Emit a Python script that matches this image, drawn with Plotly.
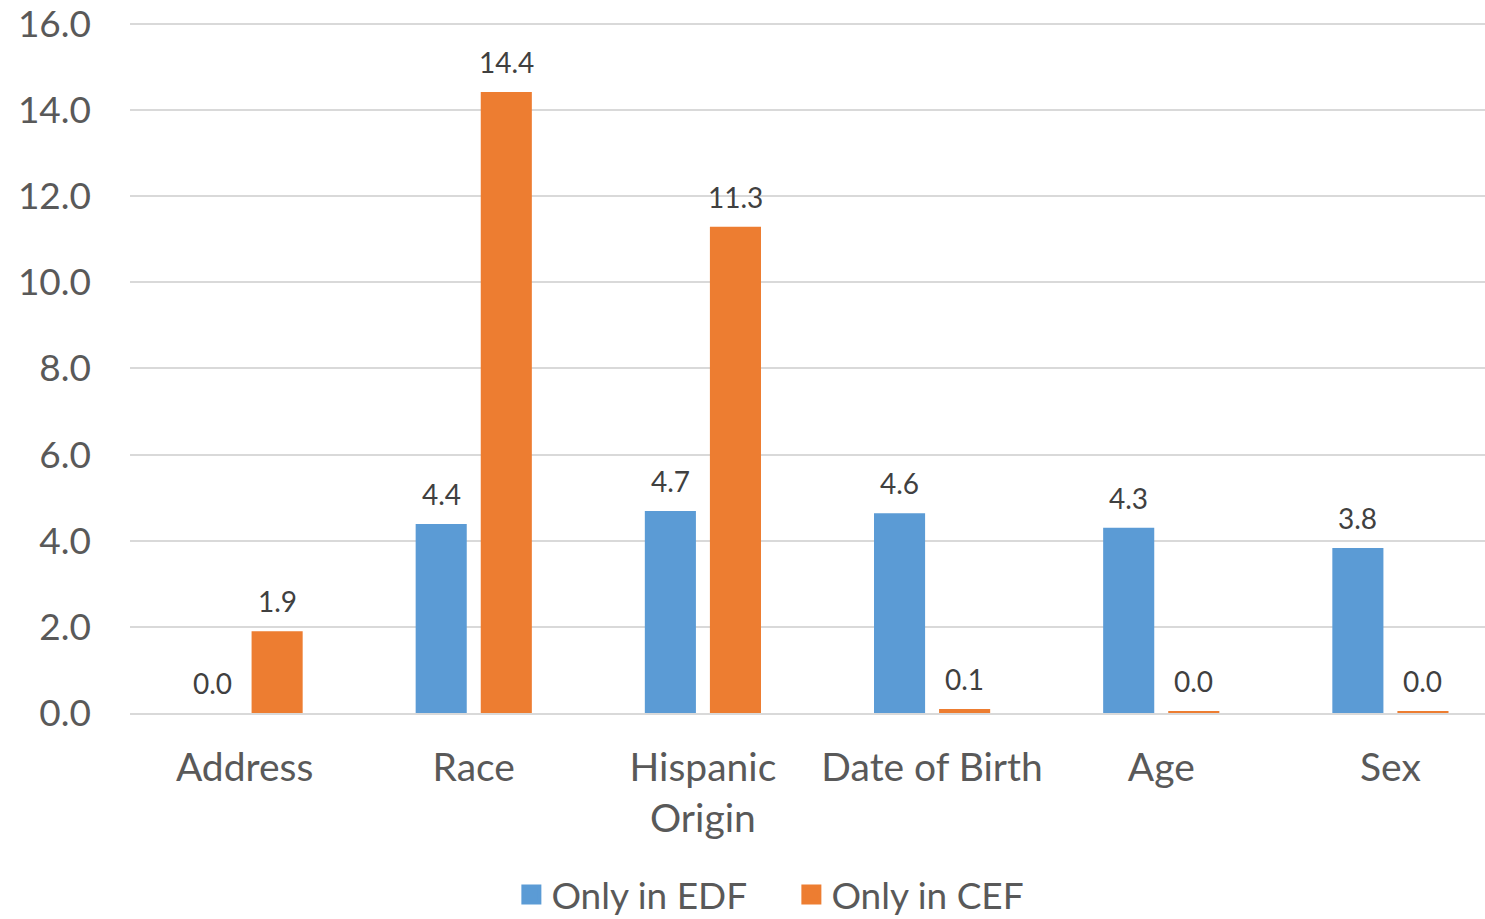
import plotly.graph_objects as go

categories = ["Address", "Race", "Hispanic<br>Origin", "Date of Birth", "Age", "Sex"]
only_edf = [0.0, 4.39, 4.69, 4.64, 4.30, 3.83]
only_cef = [1.90, 14.42, 11.29, 0.09, 0.04, 0.04]
tick_vals = [0, 2, 4, 6, 8, 10, 12, 14, 16]
series_names = ["Only in EDF", "Only in CEF"]
series_colors = ["#5b9bd5", "#ed7d31"]

FONT = "Lato, 'Open Sans', sans-serif"

fig = go.Figure()
for name, vals, col, shift in zip(series_names, [only_edf, only_cef], series_colors, [-32.5, 32.5]):
    fig.add_trace(go.Bar(
        name=name, x=categories, y=vals,
        marker=dict(color=col, line=dict(width=0)),
        showlegend=False,
    ))
    # legend proxy with larger square
    fig.add_trace(go.Scatter(
        name=name, x=[None], y=[None], mode="markers",
        marker=dict(symbol="square", size=18, color=col, line=dict(color=col, width=4)),
        showlegend=True,
    ))
    for c, v in zip(categories, vals):
        fig.add_annotation(
            x=c, y=v, text=f"{v:.1f}", showarrow=False,
            xshift=shift, yshift=11, yanchor="bottom",
            font=dict(size=28, color="#404040", family=FONT),
        )

# the plot area in the reference runs past the right edge of the picture
fig.update_layout(
    width=1505, height=919,
    margin=dict(l=130, r=0, t=22, b=206, autoexpand=False),
    paper_bgcolor="white", plot_bgcolor="white",
    barmode="group", bargap=0.432, bargroupgap=0.215,
    font=dict(family=FONT, color="#595959"),
    showlegend=True,
    legend=dict(
        orientation="h", x=0.481, xanchor="center", y=-0.2634, yanchor="middle",
        font=dict(size=37, color="#595959", family=FONT),
        itemwidth=30, entrywidth=235, entrywidthmode="pixels",
    ),
)
fig.update_yaxes(
    range=[0, 16.046], tickvals=tick_vals, tickformat=".1f",
    showgrid=True, gridcolor="#d9d9d9", gridwidth=2,
    zeroline=False, showline=False, ticks="",
    tickfont=dict(size=37, color="#595959", family=FONT),
    ticklabelstandoff=38, automargin=False, ticklabeloverflow="allow",
)
fig.update_xaxes(
    showline=True, linecolor="#d9d9d9", linewidth=2,
    ticks="", tickfont=dict(size=39, color="#595959", family=FONT),
    ticklabelstandoff=19, automargin=False,
)

fig.write_html(
    "out.html",
    config={"displayModeBar": False},
    post_script="document.body.style.margin='0';document.body.style.overflow='hidden';",
)
